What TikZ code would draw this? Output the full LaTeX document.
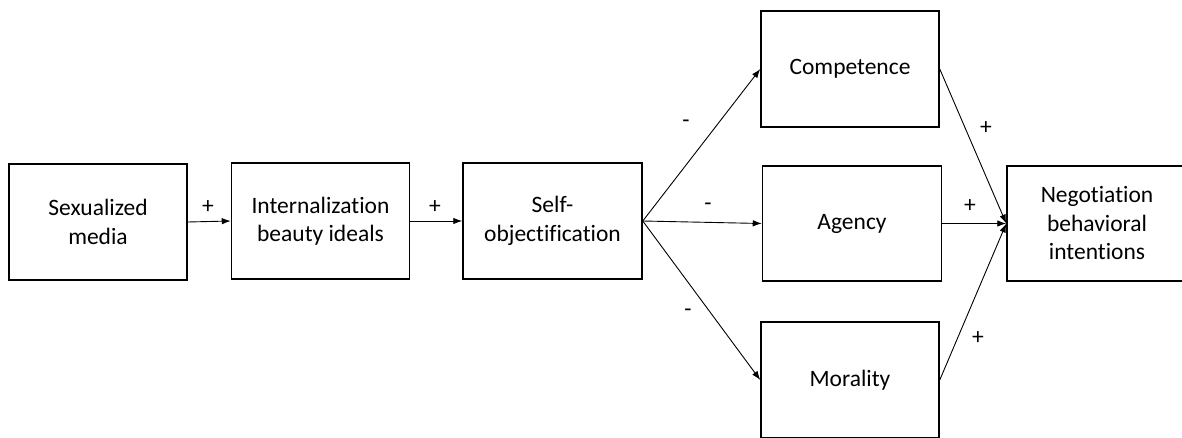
\documentclass[tikz,border=0pt]{standalone}
\usepackage{fontspec}
\setmainfont{Carlito}[Ligatures=NoCommon]
\usetikzlibrary{arrows.meta}
\tikzset{>={Latex[length=9pt,width=6.5pt]}}
\tikzset{box/.style={draw,line width=1.5pt,minimum width=178pt,minimum height=116pt,inner sep=0pt,align=center,font=\fontsize{23.5}{28.5}\selectfont}}
\tikzset{sign/.style={inner sep=0pt,font=\fontsize{23.5}{28.5}\selectfont}}
\tikzset{link/.style={line width=0.9pt,->}}

\begin{document}
\begin{tikzpicture}[x=1pt,y=1pt]
	\useasboundingbox (0,0) rectangle (1182,437);
	\clip (0,0) rectangle (1182,437);

	\node[box] (media) at (98,215) {Sexualized\\media};
	\node[box] (ideals) at (320.5,216) {Internalization\\beauty ideals};
	\node[box,minimum width=179pt] (selfobj) at (552.5,216) {Self-\\objectification};
	\node[box] (comp) at (850,368) {Competence};
	\node[box,minimum width=179pt,minimum height=115pt] (agency) at (852,213.5) {Agency};
	\node[box] (moral) at (850,57) {Morality};
	\node[box,minimum width=180pt,minimum height=115pt] (nego) at (1097,213.5) {Negotiation\\behavioral\\intentions};

	\draw[link](media.east)--(ideals.west);
	\node[sign] (p1) at (208,230) {+};
	\draw[link](ideals.east)--(selfobj.west);
	\node[sign] (p2) at (435,230) {+};

	\draw[link](selfobj.east)--(comp.west);
	\node[sign] (m1) at (686,313) {-};
	\draw[link](selfobj.east)--(agency.west);
	\node[sign] (m2) at (708,230) {-};
	\draw[link](selfobj.east)--(moral.west);
	\node[sign] (m3) at (688,124) {-};

	\draw[link](comp.east)--(nego.west);
	\node[sign] (p3) at (986,309) {+};
	\draw[link](agency.east)--(nego.west);
	\node[sign] (p4) at (970,231) {+};
	\draw[link](moral.east)--(nego.west);
	\node[sign] (p5) at (978,99) {+};

\end{tikzpicture}
\end{document}
